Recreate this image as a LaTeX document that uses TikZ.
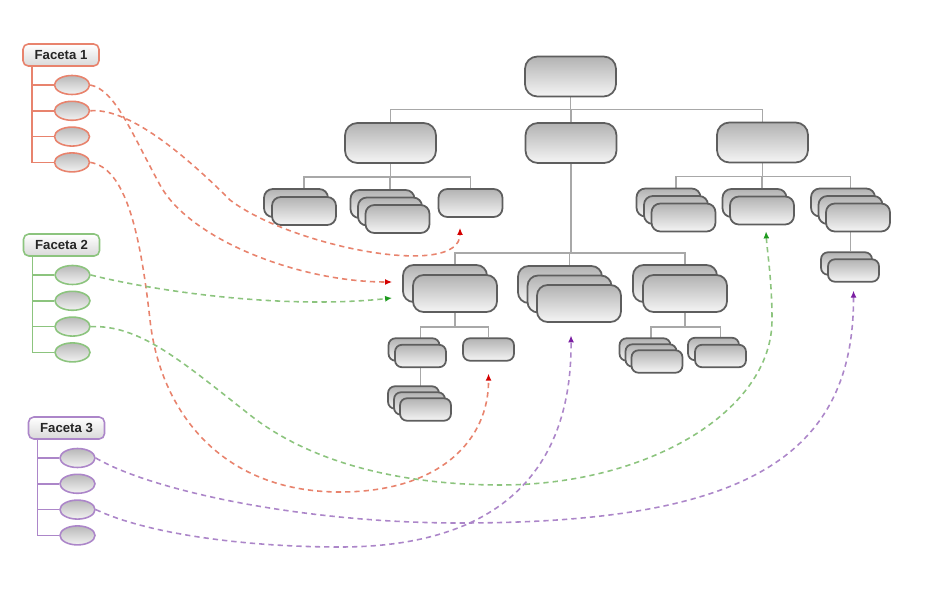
\documentclass[tikz,border=0pt]{standalone}
\usepackage{fontspec}
\setsansfont{Liberation Sans}
\usepackage{tikz}
\usetikzlibrary{calc,shapes.geometric,arrows.meta,backgrounds}
\definecolor{facetred}{HTML}{E8836D}
\definecolor{facetgreen}{HTML}{8CC47E}
\definecolor{facetpurple}{HTML}{AC86C9}
\definecolor{tipred}{HTML}{D40000}
\definecolor{tipgreen}{HTML}{1E9A1E}
\definecolor{tippurple}{HTML}{7B1FA2}
\definecolor{treegray}{HTML}{A8A8A8}
\definecolor{boxedge}{HTML}{5E5E5E}
\tikzstyle{org box}=[draw=boxedge, line width=1pt, top color=gray!60, bottom color=gray!8, rounded corners=5pt, inner sep=0pt]
\tikzstyle{big box}=[org box, minimum width=1.82cm, minimum height=.8cm, rounded corners=7pt]
\tikzstyle{mid box}=[org box, minimum width=1.68cm, minimum height=.74cm, rounded corners=6pt]
\tikzstyle{small box}=[org box, minimum width=1.28cm, minimum height=.56cm]
\tikzstyle{tiny box}=[org box, minimum width=1.02cm, minimum height=.45cm, rounded corners=4pt]
\tikzstyle{tree line}=[draw=treegray, line width=.85pt]
\tikzstyle{facet head}=[draw, rounded corners=3pt, top color=white, bottom color=gray!30, minimum width=1.52cm, minimum height=.44cm, inner sep=0pt, line width=.9pt, text=black!85, font=\sffamily\bfseries\fontsize{7.5}{9}\selectfont]
\tikzstyle{facet oval}=[ellipse, draw, top color=gray!55, bottom color=gray!10, minimum width=.7cm, minimum height=.38cm, inner sep=0pt, line width=.9pt]
\tikzstyle{facet line}=[line width=.85pt]
\tikzstyle{link}=[line width=.9pt, dash pattern=on 3pt off 2.3pt]
\tikzstyle{red link}=[link, draw=facetred, -{Latex[length=4pt,width=3.4pt,color=tipred]}]
\tikzstyle{green link}=[link, draw=facetgreen, -{Latex[length=4pt,width=3.4pt,color=tipgreen]}]
\tikzstyle{purple link}=[link, draw=facetpurple, -{Latex[length=4pt,width=3.4pt,color=tippurple]}]
\begin{document}
\begin{tikzpicture}[x=.02cm,y=-.02cm]
    \useasboundingbox (0,0) rectangle (926,614);

    % Facets
    \foreach \f/\x/\y/\col in {1/72/55/facetred, 2/72.5/245/facetgreen, 3/77.5/428/facetpurple} {
      \draw (\x-11,\y) node[facet head, draw=\col] (f\f) {Faceta \f};
      \foreach \i in {1,...,4}
        \draw (\x,\y+30+\i*25.8-25.8) node[facet oval, draw=\col] (f\f-\i) {};
      \coordinate (f\f-spine) at ($(f\f.south west)+(10,0)$);
      \draw[facet line, draw=\col] (f\f-spine) |- (f\f-4.west);
      \foreach \i in {1,2,3}
        \draw[facet line, draw=\col] (f\f-\i.west) -- (f\f-\i.west -| f\f-spine);
    }

    % Tree
    \draw (570.5,76.5) node[big box] (root) {};
    \draw (390.5,143) node[big box] (l1a) {};
    \draw (571,143) node[big box] (l1b) {};
    \draw (762.5,142.5) node[big box] (l1c) {};
    \foreach \n/\x/\y/\k/\d in {a/304/211/1/8, b/397.5/219/2/7.5, r1/683.5/217.5/2/7.5, r2/762/210.5/1/7.5, r3/858/217.5/2/7.5} {
      \foreach \j in {\k,...,1} \draw (\x-\j*\d,\y-\j*\d) node[small box] (\n-\j) {};
      \draw (\x,\y) node[small box] (\n) {};
    }
    \draw (470.5,203) node[small box] (c) {};
    \foreach \n/\x/\y/\k/\d in {m1/455/293.5/1/10, m2/579/303.5/2/9.5, m3/685/293.5/1/10} {
      \foreach \j in {\k,...,1} \draw (\x-\j*\d,\y-\j*\d) node[mid box] (\n-\j) {};
      \draw (\x,\y) node[mid box] (\n) {};
    }
    \foreach \n/\x/\y/\k/\d in {m1a/420.5/356/1/6.5, m1aa/425.5/409.5/2/6, m3a/657/361.5/2/6, m3b/720.5/356/1/7, r3a/853.5/270.5/1/7} {
      \foreach \j in {\k,...,1} \draw (\x-\j*\d,\y-\j*\d) node[tiny box] (\n-\j) {};
      \draw (\x,\y) node[tiny box] (\n) {};
    }
    \draw (488.5,349.5) node[tiny box] (m1b) {};

    % Tree lines
    \begin{scope}[on background layer]
      \foreach \c in {l1a,l1b,l1c} \draw[tree line] (root.south) -- ++(0,12) -| (\c.north);
      \foreach \c in {a.north,b-1.north,c.north} \draw[tree line] (l1a.south) -- ++(0,13) -| (\c);
      \foreach \c in {r1-1.north,r2.north,r3-1.north} \draw[tree line] (l1c.south) -- ++(0,13) -| (\c);
      \foreach \c in {m1.north,m2-1.north,m3.north} \draw[tree line] (l1b.south) -- ++(0,89) -| (\c);
      \foreach \c in {m1a.north,m1b.north} \draw[tree line] (m1.south) -- ++(0,14) -| (\c);
      \foreach \c in {m3a-1.north,m3b.north} \draw[tree line] (m3.south) -- ++(0,14) -| (\c);
      \draw[tree line] (m1a.south) -- (m1a.south |- m1aa-1.north);
      \draw[tree line] (r3-1.south) -- (r3-1.south |- r3a-1.north);
    \end{scope}

    % Links
    \coordinate (c in) at ($(c.south)+(-10.5,10)$);
    \coordinate (m1 in red) at ($(m1-1.west)+(-10,-1.5)$);
    \coordinate (m1 in green) at ($(m1-1.west)+(-10,14.5)$);
    \coordinate (m1b in) at ($(m1b.south)+(0,12)$);
    \coordinate (r2 in) at ($(r2.south)+(4,6)$);
    \coordinate (r3a in) at ($(r3a.south)+(0,8)$);
    \coordinate (m2 in) at ($(m2-1.south)+(1.5,22)$);
    \draw[red link] (f1-1.east) .. controls (115,90) and (130,130) .. (160,185)
      .. controls (190,240) and (300,282) .. (m1 in red);
    \draw[red link] (f1-2.east) .. controls (125,108) and (175,145) .. (230,200)
      .. controls (290,246) and (460,280) .. (c in);
    \draw[red link] (f1-4.east) .. controls (125,168) and (140,230) .. (150,320)
      .. controls (160,410) and (220,492) .. (340,492)
      .. controls (440,492) and (489,440) .. (m1b in);
    \draw[green link] (f2-1.east) .. controls (150,290) and (280,310) .. (m1 in green);
    \draw[green link] (f2-3.east) .. controls (140,325) and (180,360) .. (250,415)
      .. controls (320,470) and (420,485) .. (500,485)
      .. controls (650,485) and (772,410) .. (772,320)
      .. controls (772,280) and (767,250) .. (r2 in);
    \draw[purple link] (f3-1.east) .. controls (150,490) and (300,523) .. (460,523)
      .. controls (740,523) and (854,460) .. (r3a in);
    \draw[purple link] (f3-3.east) .. controls (150,535) and (250,547) .. (340,547)
      .. controls (500,547) and (572,470) .. (m2 in);

\end{tikzpicture}
\end{document}
